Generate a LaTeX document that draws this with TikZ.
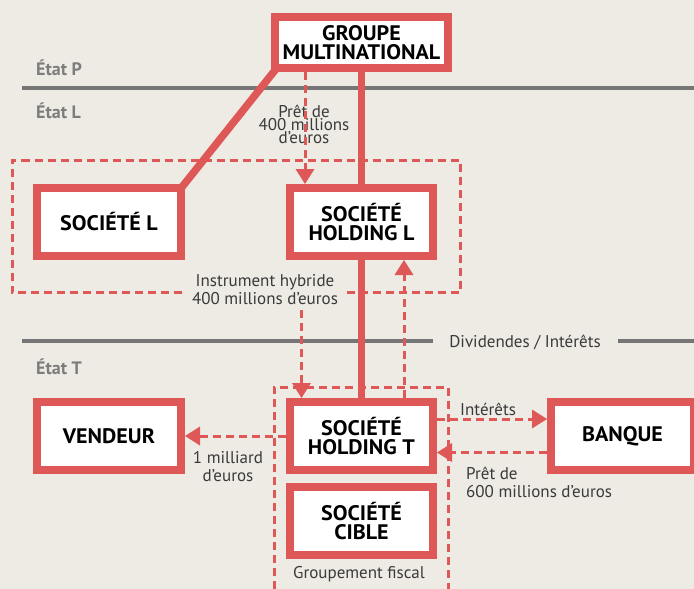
\documentclass[tikz,border=0pt]{standalone}
\usepackage{fontspec}
\setmainfont{PT Sans}
\newfontfamily\boxfont{PT Sans}[FakeStretch=1.05]
\usetikzlibrary{arrows.meta}
\definecolor{bgc}{RGB}{237,235,228}
\definecolor{redc}{RGB}{222,88,88}
\definecolor{grayl}{RGB}{118,118,118}
\definecolor{etatc}{RGB}{125,125,125}
\definecolor{txtc}{RGB}{58,58,58}
\pgfdeclarelayer{bglayer}
\pgfdeclarelayer{lines}
\pgfsetlayers{bglayer,lines,main}
\begin{document}
\begin{tikzpicture}[x=1pt,y=-1pt,
  box/.style={draw=redc, line width=8pt, fill=white, inner sep=0pt, align=center,
    font=\boxfont\bfseries\fontsize{21}{18.3}\selectfont, text=black,
    minimum width=143pt, minimum height=68pt},
  lbl/.style={inner sep=0pt, text=txtc, font=\fontsize{17}{17.6}\selectfont},
  etatlbl/.style={inner sep=0pt, anchor=base west, text=etatc, font=\bfseries\fontsize{18}{18}\selectfont},
  sep/.style={draw=grayl, line width=4.5pt},
  grp/.style={draw=redc, line width=3pt, dash pattern=on 8pt off 5pt},
  flow/.style={grp, -{Triangle[width=19pt,length=15pt,line width=0pt]}},
  own/.style={draw=redc, line width=7.5pt}
]
\begin{pgfonlayer}{bglayer}
\fill[bgc] (0,0) rectangle (694,589);
\end{pgfonlayer}
\useasboundingbox (0,0) rectangle (694,589);

% boxes
\node[box, minimum width=173pt, minimum height=51pt] (groupe) at (361.5,42.5) {GROUPE\\MULTINATIONAL};
\node[box, minimum width=144pt] (socL) at (109,222) {SOCIÉTÉ L};
\node[box] (holdL) at (361.5,222) {SOCIÉTÉ\\HOLDING L};
\node[box, minimum width=144pt] (vendeur) at (109,436) {VENDEUR};
\node[box] (holdT) at (361.5,436) {SOCIÉTÉ\\HOLDING T};
\node[box] (banque) at (622.5,436) {BANQUE};
\node[box, minimum height=68.5pt] (cible) at (361.5,521) {SOCIÉTÉ\\CIBLE};

% state labels
\node[etatlbl] (etatP) at (36,75) {État P};
\node[etatlbl] (etatL) at (36,118.3) {État L};
\node[etatlbl] (etatT) at (36,374) {État T};

% text labels (multi-line nodes: base = last line)
\node[lbl, anchor=base] (div) at (525,347) {Dividendes / Intérêts};
\node[lbl, align=center, anchor=base] (hyb) at (265,304.3) {Instrument hybride\\400 millions d’euros};
\node[lbl, align=center, anchor=base, font=\fontsize{17}{12.7}\selectfont] (pret4) at (304,143.3) {Prêt de\\400 millions\\d’euros};
\node[lbl, align=left, anchor=base west, font=\fontsize{17}{18}\selectfont] (pret6) at (466,497) {Prêt de\\600 millions d’euros};
\node[lbl, anchor=base west] (inter) at (460,415) {Intérêts};
\node[lbl, align=center, anchor=base, font=\fontsize{17}{18.5}\selectfont] (mil) at (228,481.5) {1 milliard\\d’euros};
\node[lbl, anchor=base] (gf) at (359,578) {Groupement fiscal};

\begin{pgfonlayer}{lines}
% state separators
\draw[sep] (22,88) -- (694,88);
\draw[sep] (22,341) -- (433,341);
\draw[sep] (618,341) -- (694,341);
% ownership lines
\draw[own] (groupe) -- (holdT);
\draw[own] ([shift={(5,-3)}]groupe.south west) -- ([shift={(-3,3)}]socL.north east);
\end{pgfonlayer}

% groups
\draw[grp] (182,292.5) -- (12,292.5) -- (12,160) -- (460,160) -- (460,292.5) -- (343,292.5);
\draw[grp] (274,589) -- (274,387) -- (448.5,387) -- (448.5,589);

% flows
\coordinate (hybfoot) at (301.5,310);
\draw[flow] ([xshift=-56.5pt]groupe.south) -- ([xshift=-56.5pt]holdL.north);
\draw[flow] ([xshift=42.5pt]holdT.north) -- ([xshift=42.5pt]holdL.south);
\draw[flow] (hybfoot) -- (hybfoot |- holdT.north);
\draw[flow] (holdT.west) -- (vendeur.east);
\draw[flow] ([yshift=17pt]holdT.east) -- ([yshift=17pt]banque.west);
\draw[flow] ([yshift=-16.5pt]banque.west) -- ([yshift=-16.5pt]holdT.east);
\end{tikzpicture}
\end{document}
